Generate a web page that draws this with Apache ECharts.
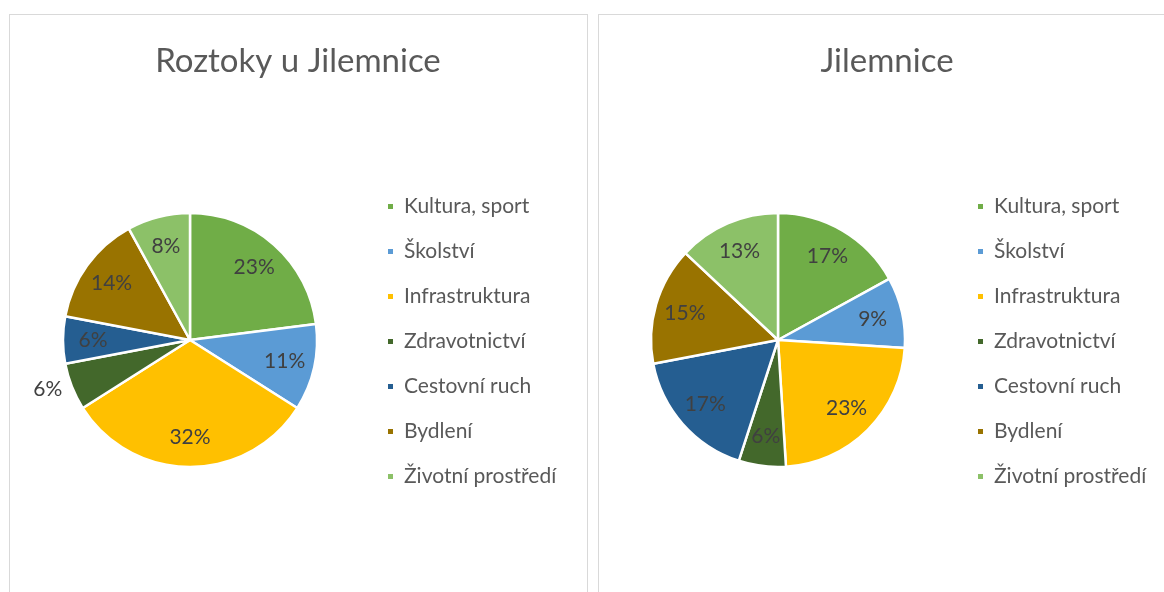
<!DOCTYPE html>
<html>
<head>
<meta charset="utf-8">
<script src="https://cdn.jsdelivr.net/npm/echarts@6/dist/echarts.min.js"></script>
<style>
  html, body { margin: 0; padding: 0; background: #fff; overflow: hidden; width: 1164px; height: 592px; }
  .panel { position: absolute; top: 14px; height: 600px; border: 1px solid #d9d9d9; box-sizing: border-box; background: #fff; }
  #left { left: 9px; width: 579px; }
  #right { left: 598px; width: 600px; }
</style>
</head>
<body>
<div id="left" class="panel"></div>
<div id="right" class="panel"></div>
<script>
// Investment areas and their shares (%) per municipality
const categories = ['Kultura, sport', 'Školství', 'Infrastruktura', 'Zdravotnictví', 'Cestovní ruch', 'Bydlení', 'Životní prostředí'];
const palette = ['#70AD47', '#5B9BD5', '#FFC000', '#43682B', '#255E91', '#997300', '#8CC168'];
const roztokyValues = [23, 11, 32, 6, 6, 14, 8];
const jilemniceValues = [17, 9, 23, 6, 17, 15, 13];
const titleRoztoky = 'Roztoky u Jilemnice';
const titleJilemnice = 'Jilemnice';
// slices whose label sits outside the pie
const roztokyOutside = ['Zdravotnictví'];
const jilemniceOutside = [];

const FONT = 'Lato, "Open Sans", sans-serif';

function buildOption(title, values, outside, cx, cy, titleX, legendX) {
  const R = 127;
  const base = categories.map((name, i) => ({
    name, value: values[i], itemStyle: { color: palette[i] }
  }));
  const labelData = categories.map((name, i) => {
    const item = { name, value: values[i] };
    if (outside.includes(name)) {
      item.label = { position: 'outside', distanceToLabelLine: 4 };
      item.labelLine = { show: false, length: 6, length2: 0 };
    }
    return item;
  });
  return {
    animation: false,
    color: palette,
    title: {
      text: title,
      left: titleX, top: 25,
      textAlign: 'center',
      textStyle: { fontFamily: FONT, fontSize: 33, fontWeight: 'normal', color: '#595959' }
    },
    legend: {
      orient: 'vertical',
      left: legendX, top: 176,
      icon: 'rect', itemWidth: 7, itemHeight: 7, itemGap: 24,
      selectedMode: false,
      data: categories,
      textStyle: { fontFamily: FONT, fontSize: 21, color: '#595959', lineHeight: 20, padding: [0, 0, 0, 5] }
    },
    series: [
      {
        type: 'pie',
        center: [cx, cy], radius: [0, R],
        startAngle: 90, clockwise: true,
        silent: true,
        label: { show: false }, labelLine: { show: false },
        itemStyle: { borderColor: '#fff', borderWidth: 2.5 },
        data: base
      },
      {
        type: 'pie',
        center: [cx, cy], radius: [R * 0.48, R],
        startAngle: 90, clockwise: true,
        silent: true,
        itemStyle: { color: 'rgba(0,0,0,0)', borderWidth: 0 },
        label: {
          show: true, position: 'inside', formatter: '{c}%',
          fontFamily: FONT, fontSize: 21, color: '#404040'
        },
        labelLine: { show: false },
        data: labelData
      }
    ]
  };
}

echarts.init(document.getElementById('left'), null, { renderer: 'canvas' })
  .setOption(buildOption(titleRoztoky, roztokyValues, roztokyOutside, 180, 325, 283, 371));
echarts.init(document.getElementById('right'), null, { renderer: 'canvas' })
  .setOption(buildOption(titleJilemnice, jilemniceValues, jilemniceOutside, 179, 325, 283, 372));
</script>
</body>
</html>
